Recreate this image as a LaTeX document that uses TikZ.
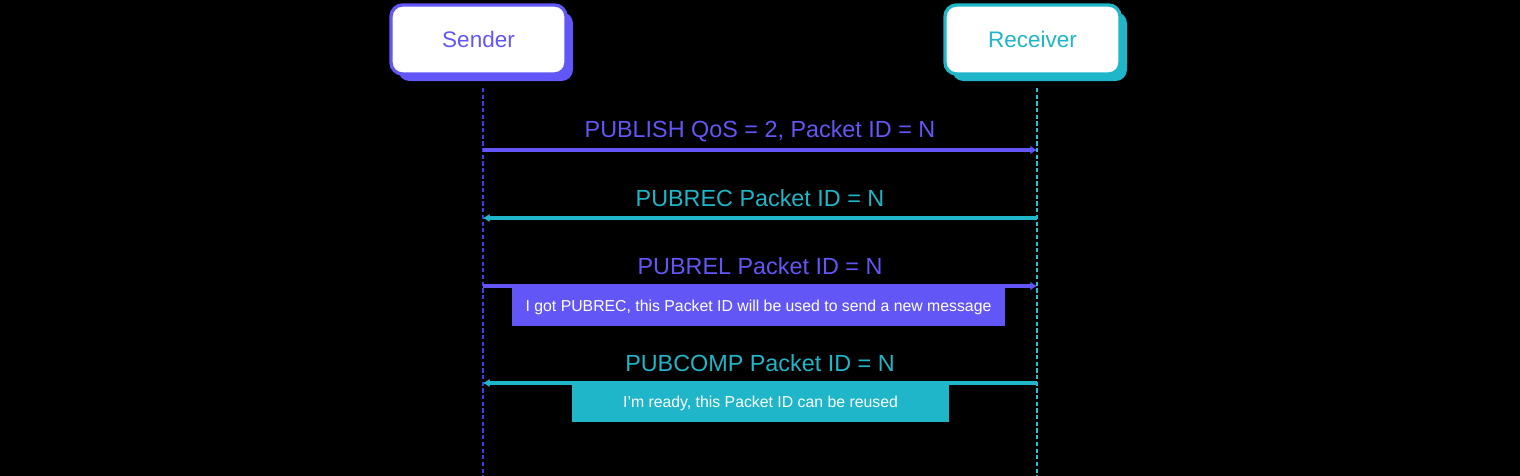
\documentclass[tikz,border=0pt]{standalone}
\usepackage{fontspec}
\setmainfont{Liberation Sans}
\usepackage{xcolor}
\usetikzlibrary{arrows.meta}
\usetikzlibrary{shadows}
\definecolor{sendc}{HTML}{6356F6}
\definecolor{recvc}{HTML}{1EB6C8}
\definecolor{sendl}{HTML}{3B3BF2}
\definecolor{recvl}{HTML}{1CC6D6}

\begin{document}
\begin{tikzpicture}[
        x=0.02cm, y=-0.02cm,
        >={Latex[length=3.8pt, width=5pt]},
        actor/.style={rectangle, rounded corners=6.5pt, draw=#1, line width=1.9pt,
            fill=white, text=#1, minimum width=3.5cm, minimum height=1.38cm,
            font=\fontsize{12.8}{15}\selectfont,
            drop shadow={shadow xshift=4pt, shadow yshift=-4pt, fill=#1, opacity=1}},
        life/.style={draw=#1, line width=1.1pt, dash pattern=on 2.4pt off 1.4pt},
        msg/.style={draw=#1, line width=2.2pt, ->},
        msglabel/.style={text=#1, inner sep=0pt, font=\fontsize{13.3}{15}\selectfont},
        note/.style={fill=#1, text=white, inner sep=0pt, minimum height=0.76cm,
            font=\fontsize{9}{11}\selectfont}
    ]

    % -- Fond --
    \useasboundingbox (0,0) rectangle (1520,476);
    \fill[black] (0,0) rectangle (1520,476);

    % -- Position des acteurs --
    \node[actor=sendc] (sender)   at (478.5,39.5)  {Sender};
    \node[actor=recvc] (receiver) at (1032.5,39.5) {Receiver};

    % -- Lignes de vie --
    \coordinate (sTop) at (483,88);
    \coordinate (sBot) at (483,476);
    \coordinate (rTop) at (1037,88);
    \coordinate (rBot) at (1037,476);
    \draw[life=sendl] (sTop) -- (sBot);
    \draw[life=recvl] (rTop) -- (rBot);

    % -- Points des messages --
    \coordinate (s1) at (483,150);  \coordinate (r1) at (1037,150);
    \coordinate (s2) at (483,218);  \coordinate (r2) at (1037,218);
    \coordinate (s3) at (483,286);  \coordinate (r3) at (1037,286);
    \coordinate (s4) at (483,383);  \coordinate (r4) at (1037,383);

    % PUBLISH : sender -> receiver
    \draw[msg=sendc] (s1) -- (r1);
    \node[msglabel=sendc] (publish) at (760,131) {PUBLISH QoS = 2, Packet ID = N};

    % PUBREC : receiver -> sender
    \draw[msg=recvc] (r2) -- (s2);
    \node[msglabel=recvc] (pubrec) at (760,198) {PUBREC Packet ID = N};

    % PUBREL : sender -> receiver
    \draw[msg=sendc] (s3) -- (r3);
    \node[msglabel=sendc] (pubrel) at (760,266) {PUBREL Packet ID = N};

    % PUBCOMP : receiver -> sender
    \draw[msg=recvc] (r4) -- (s4);
    \node[msglabel=recvc] (pubcomp) at (760,363) {PUBCOMP Packet ID = N};

    % -- Notes --
    \node[note=sendc, minimum width=9.86cm] (noteRel) at (758.5,307)
        {I got PUBREC, this Packet ID will be used to send a new message};
    \node[note=recvc, minimum width=7.54cm] (noteComp) at (760.5,403.5)
        {I’m ready, this Packet ID can be reused};

\end{tikzpicture}
\end{document}
